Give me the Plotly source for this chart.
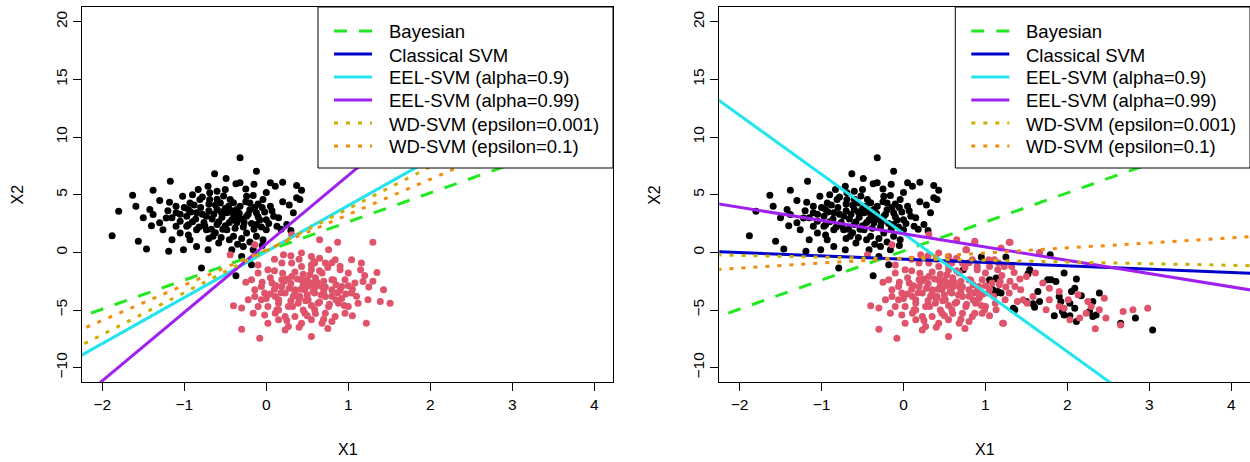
import plotly.graph_objects as go

W, H = 1250, 462

# ---------------- data ----------------
X_TICKS = [-2, -1, 0, 1, 2, 3, 4]
Y_TICKS = [-10, -5, 0, 5, 10, 15, 20]
X_RANGE = [-2.247, 4.228]
Y_RANGE = [-11.24, 21.28]

# class 1 (black) points - shared by both panels
black_x = [-0.32, -0.12, -0.63, -0.49, -1.17, -0.32, -0.37, 0.05, 0.20, 0.11,
           -1.38, -1.63, -0.83, -0.71, -0.60, -0.50, -0.16, 0.43, 0.37, 0.41,
           -1.59, -1.80, -1.18, -1.02, -0.93, -0.81, -0.69, -0.56, -0.44, -0.32,
           -0.20, -0.04, 0.05, 0.09, 0.33, 0.25, -1.42, -1.38, -1.22, -1.10,
           -0.97, -0.85, -0.73, -0.60, -0.48, -0.36, -0.24, -0.12, 0.00, -1.88,
           -1.56, -1.46, -1.19, -1.15, -1.05, -0.97, -0.85, -0.73, -0.60, -0.48,
           -0.36, -0.24, -0.12, -0.04, -1.01, -0.85, -0.71, -0.58, -0.42, -0.28,
           -0.30, -0.16, -0.18, -0.79, -0.93, -1.10, -0.65, -0.40, -1.30, -1.26,
           0.00, 0.13, -0.69, -0.24, -0.95, -0.42, -0.12, -0.37,
           -0.90, -0.80, -0.66, -0.54, -0.50, -0.40, -0.30, -0.20, -0.08, -0.05,
           -0.30, -0.62, -0.76, -0.46, -0.15, 0.15, -1.00, -0.86, -0.25, -0.52,
           0.00, -1.30, 0.30, -0.05, 0.37, -0.70, -0.35, -0.58, -0.82, -0.28,
           -0.10, -0.90, -0.45, -1.05, 0.20, -0.62, -0.15, 0.28,
           -1.15, -1.05, -0.95, -0.92, -0.88, -0.78, -0.75, -0.70, -0.67, -0.64,
           -0.55, -0.53, -0.50, -0.45, -0.42, -0.38, -0.33, -0.27, -0.22, -0.18,
           -0.14, -0.10, -0.06, -0.02, 0.03, 0.07, -0.60, -0.40, -0.78, -1.20,
           -1.10, -0.95, -0.70, -0.55, -0.20, -0.35, 0.18, -1.40, -1.50, -0.25]
black_y = [8.21, 7.04, 6.82, 6.41, 6.17, 6.03, 5.95, 6.03, 6.09, 5.74,
           5.39, 4.96, 5.45, 5.74, 5.30, 5.45, 4.93, 5.39, 4.73, 4.58,
           4.00, 3.57, 4.35, 4.87, 4.29, 4.58, 4.58, 4.29, 4.58, 4.00,
           4.29, 4.58, 4.00, 3.13, 3.43, 2.41, 3.71, 3.28, 2.99, 3.43,
           3.13, 3.43, 3.13, 3.71, 3.43, 3.71, 3.13, 3.43, 2.84, 1.45,
           0.96, 0.30, 0.09, 1.10, 1.69, 2.26, 1.97, 1.97, 2.41, 1.97,
           2.56, 1.69, 1.39, 1.10, 0.23, 0.52, 0.23, 0.82, 0.23, 0.52,
           -0.35, 0.23, -1.07, -1.36, 1.10, 2.26, 1.39, 1.39, 2.56, 1.97,
           1.97, 2.26, 5.17, 4.87, 3.71, 2.84, 2.41, -2.03,
           2.65, 3.90, 2.90, 3.05, 2.30, 3.30, 2.90, 3.70, 2.80, 3.90,
           1.20, 1.70, 2.60, 4.00, 2.00, 3.00, 3.90, 2.90, 5.50, 4.90,
           5.20, 4.50, 1.90, 0.60, 5.80, 3.60, 3.10, 2.65, 2.20, 2.20,
           4.20, 5.00, 1.10, 2.70, 4.40, 4.10, 5.90, 4.10,
           3.00, 3.30, 2.40, 3.50, 4.10, 3.30, 2.30, 4.20, 2.00, 3.30,
           3.50, 2.00, 3.80, 2.60, 3.60, 2.10, 3.40, 2.60, 3.30, 2.50,
           3.90, 3.10, 2.20, 3.50, 2.50, 3.60, 4.60, 4.30, 4.80, 3.60,
           4.00, 1.50, 1.20, 1.30, 0.90, 0.70, 2.00, 2.30, 3.00, 4.40]

# class 2 (red) points - shared by both panels
red_x = [-0.44, -0.14, 0.31, 0.65, 0.87, 1.30, 0.76, 0.43, 0.21, 0.55,
         1.04, 1.16, 1.35, 1.18, 1.43, 1.51, 1.39, 1.24, 1.04, 0.92,
         0.80, 0.68, 0.55, 0.43, 0.31, 0.19, 0.02, -0.10, -0.18, -0.06,
         0.07, 0.19, 0.31, 0.43, 0.55, 0.68, 0.80, 0.72, 0.59, 0.47,
         0.35, 0.23, 0.11, -0.02, -0.14, -0.22, -0.10, 0.02, 0.15, 0.27,
         0.39, 0.51, 0.63, 0.76, 0.88, 1.00, 1.12, 0.96, 0.84, 0.72,
         0.59, 0.47, 0.35, 0.23, 0.11, 0.15, 0.02, 0.27, 0.43, 0.55,
         0.68, 0.80, -0.40, -0.30, 1.22, -0.30, -0.08, 0.55, 0.23, -0.06,
         0.19, 0.90, 1.00, 0.41, 0.53, 0.59, 0.72, 0.84, 0.96, 1.08,
         -0.16, 0.13, -0.02, -0.14,
         0.30, 0.45, 0.60, 0.70, 0.50, 0.65, 0.40, 0.55, 0.30, 0.80,
         0.85, 0.75, 0.35, 0.60, 0.20, 0.10, 0.45, 0.90, 1.00, 1.10,
         0.05, -0.10, 0.25, 0.50, 0.70, 0.35, 0.15, 0.60, 0.85, 0.95,
         0.40, 0.65, 0.10, -0.25, 1.20, 0.55,
         0.05, 0.12, 0.18, 0.22, 0.28, 0.33, 0.38, 0.42, 0.48, 0.52,
         0.57, 0.62, 0.67, 0.72, 0.77, 0.82, 0.87, 0.92, 0.97, 1.05,
         0.32, 0.50, 0.70, 0.15, 0.00, -0.05, 0.10, 0.45, 0.65, 0.90,
         1.15, 1.25, 1.30, 0.40, 0.75, 1.05, 0.25, 0.58, 0.30, 0.80]
red_y = [-0.20, 0.67, 1.54, 1.10, 0.87, 0.87, 0.23, -0.05, -0.20, -0.35,
         -0.63, -0.92, -1.74, -2.52, -3.24, -4.40, -4.26, -4.11, -3.53, -2.96,
         -2.37, -1.79, -1.50, -1.22, -0.92, -0.92, -1.50, -1.79, -2.37, -2.96,
         -2.66, -2.37, -2.09, -2.37, -2.66, -2.96, -3.24, -3.83, -3.53, -3.24,
         -3.24, -3.53, -3.83, -3.53, -3.83, -4.11, -4.70, -4.70, -4.40, -4.70,
         -4.40, -4.11, -4.40, -4.70, -4.40, -4.70, -4.40, -5.27, -5.57, -5.27,
         -4.98, -5.27, -5.57, -5.57, -5.27, -5.85, -6.14, -6.43, -6.14, -5.85,
         -6.14, -6.00, -4.63, -4.83, -6.14, -6.66, -7.45, -7.30, -6.72, -4.11,
         -2.96, -1.50, -1.79, -3.83, -1.94, -0.92, -0.92, -0.63, -2.37, -2.66,
         -5.27, -4.98, -5.42, -3.24,
         -2.70, -2.80, -3.00, -2.50, -3.70, -4.30, -4.00, -4.60, -4.20, -3.80,
         -4.10, -1.30, -1.70, -2.20, -1.80, -3.20, -5.00, -3.30, -2.90, -3.80,
         -2.20, -1.10, -2.30, -2.40, -3.40, -3.50, -4.10, -5.30, -2.80, -4.60,
         -0.60, -0.50, -0.60, -2.60, -2.00, -1.10,
         -3.60, -2.90, -3.50, -2.50, -3.10, -3.80, -2.30, -3.20, -4.20, -2.90,
         -3.40, -2.60, -3.70, -3.00, -4.50, -2.40, -3.50, -4.00, -3.60, -3.20,
         -4.70, -5.50, -5.80, -5.00, -4.00, -2.60, -1.60, -1.90, -1.60, -1.20,
         -1.50, -3.00, -2.50, -6.50, -6.60, -5.50, -5.90, -0.80, -0.30, -0.90]

# extra (contaminating) points present only in the second panel
black_extra_x = [0.95, 1.25, 1.79, 0.73, 1.54, 1.52, 1.96, 1.07, 1.14, 1.06,
                 1.15, 1.19, 1.64, 1.76, 1.80, 1.86, 2.11, 2.09, 2.05, 2.17,
                 2.39, 2.31, 1.58, 1.66, 1.60, 1.92, 2.03, 2.09, 1.94, 1.34,
                 1.36, 1.84, 1.96, 2.03, 2.11, 2.31, 2.35, 2.65, 2.83, 3.04,
                 2.27, 1.90, 1.50, 1.05, 1.13, 1.09, 1.13]
black_extra_y = [-0.40, -0.40, -0.20, -1.50, -1.50, -1.85, -1.79, -2.52, -2.31, -3.39,
                 -3.39, -3.53, -3.39, -2.37, -2.37, -2.52, -2.31, -3.10, -3.39, -3.77,
                 -3.53, -4.26, -4.46, -4.26, -4.75, -4.26, -4.40, -4.84, -5.13, -4.84,
                 -4.98, -5.50, -5.42, -5.50, -6.00, -5.57, -5.42, -6.14, -5.70, -6.72,
                 -5.13, -3.83, -4.26, -2.37, -2.23, -3.24, -3.53]
red_extra_x = [0.87, 1.29, 1.66, 1.19, 0.77, 1.05, 1.11, 1.23, 1.32, 1.61,
               1.42, 1.50, 1.70, 1.78, 1.90, 1.58, 1.46, 1.78, 1.74, 1.90,
               2.01, 2.13, 2.25, 2.39, 2.29, 2.45, 2.23, 2.03, 1.96, 2.15,
               2.47, 2.68, 2.80, 2.98, 2.65, 2.34, 1.21, 0.99, 0.87, 1.13,
               0.93, 1.29, 1.36, 1.17]
red_extra_y = [0.96, 0.87, 0.00, 0.38, 0.23, -1.22, -0.63, -1.22, -1.22, -1.79,
               -2.31, -2.09, -2.66, -3.10, -3.39, -3.83, -4.11, -4.11, -4.98, -4.70,
               -4.11, -3.68, -4.26, -4.98, -4.70, -3.97, -5.27, -5.85, -4.84, -5.70,
               -5.70, -5.13, -4.98, -4.84, -6.29, -6.63, -6.14, -4.98, -5.27, -4.98,
               -3.83, -3.53, -2.96, -2.81]

# decision boundaries  x2 = intercept + slope * x1
series_names = ["Bayesian", "Classical SVM", "EEL-SVM (alpha=0.9)",
                "EEL-SVM (alpha=0.99)", "WD-SVM (epsilon=0.001)", "WD-SVM (epsilon=0.1)"]
left_intercepts = [0.12, 0.07, 0.07, 0.74, 0.15, 0.22]
left_slopes = [2.52, 3.99, 3.99, 5.94, 3.64, 3.06]
right_intercepts = [0.12, -0.59, 1.64, 1.615, -0.55, -0.49]
right_slopes = [2.52, -0.289, -5.125, -1.151, -0.142, 0.438]

# ---------------- styles ----------------
FONT = "Liberation Sans, Arial, sans-serif"
series_colors = ["#22E822", "#0000CD", "#22E5EE", "#A020F0", "#CDAD00", "#F28C10"]
series_dash = ["13px,12px", "solid", "solid", "solid", "4px,8px", "4px,8px"]
LINE_W = 3
left_widths = [3, 2, 3, 3, 3, 3]     # classical SVM hidden under EEL (alpha=0.9) in panel 1
right_widths = [3, 3, 3, 3, 3, 3]
RED = "#DF536B"
MARK = 7

# pixel geometry
PLOT_L = [82.0, 719.3]
PLOT_R = [613.0, 1250.0]
PLOT_T, PLOT_B = 7.0, 382.0

fig = go.Figure()
X_LINE = [-3.0, 5.0]

panels = [
    (black_x, black_y, red_x, red_y, left_intercepts, left_slopes, left_widths, "x", "y"),
    (black_x + black_extra_x, black_y + black_extra_y,
     red_x + red_extra_x, red_y + red_extra_y,
     right_intercepts, right_slopes, right_widths, "x2", "y2"),
]

for bx, by, rx, ry, icp, slp, wid, xa, ya in panels:
    fig.add_trace(go.Scatter(x=bx, y=by, mode="markers", xaxis=xa, yaxis=ya,
                             marker=dict(color="black", size=MARK, line=dict(width=0)),
                             showlegend=False, hoverinfo="skip"))
    fig.add_trace(go.Scatter(x=rx, y=ry, mode="markers", xaxis=xa, yaxis=ya,
                             marker=dict(color=RED, size=MARK, line=dict(width=0)),
                             showlegend=False, hoverinfo="skip"))
    for name, a, b, col, dash, w in zip(series_names, icp, slp, series_colors, series_dash, wid):
        fig.add_trace(go.Scatter(x=X_LINE, y=[a + b * X_LINE[0], a + b * X_LINE[1]],
                                 mode="lines", xaxis=xa, yaxis=ya, name=name,
                                 line=dict(color=col, width=w, dash=dash),
                                 showlegend=False, hoverinfo="skip"))

def px(x):
    return x / W

def py(y):
    return 1 - y / H

axis_common = dict(showgrid=False, zeroline=False, showline=True, mirror=True,
                   linecolor="black", linewidth=1, ticks="outside", ticklen=8,
                   tickwidth=1, tickcolor="black", automargin=False,
                   tickfont=dict(family=FONT, size=15.5, color="black"))

ydom = [py(PLOT_B), py(PLOT_T)]
layout = dict(
    width=W, height=H, margin=dict(l=0, r=0, t=0, b=0, pad=0, autoexpand=False),
    paper_bgcolor="white", plot_bgcolor="white", showlegend=False,
)
for i, (xa, ya) in enumerate([("xaxis", "yaxis"), ("xaxis2", "yaxis2")]):
    xname = "x" if i == 0 else "x2"
    yname = "y" if i == 0 else "y2"
    layout[xa] = dict(axis_common, domain=[px(PLOT_L[i]), px(PLOT_R[i])],
                      range=X_RANGE, tickvals=X_TICKS, anchor=yname)
    layout[ya] = dict(axis_common, domain=ydom, range=Y_RANGE, tickvals=Y_TICKS,
                      tickangle=-90, anchor=xname)
fig.update_layout(**layout)

# ---------------- legends (one per panel) & axis titles ----------------
LEG_L_OFF = 236.0      # legend box left relative to plot left
LEG_B = 168.0
ROWS = [31, 54, 77, 100, 123, 146]
SAMPLE_X0, SAMPLE_X1 = 252.0, 290.0   # relative to plot left
TEXT_X = 305.0                         # relative to plot left

shapes = []
annotations = []
for i in range(2):
    L = PLOT_L[i]
    shapes.append(dict(type="rect", xref="paper", yref="paper", layer="above",
                       x0=px(L + LEG_L_OFF), x1=px(PLOT_R[i]), y0=py(LEG_B), y1=py(PLOT_T),
                       fillcolor="white", line=dict(color="black", width=1)))
    for name, col, dash, ry in zip(series_names, series_colors, series_dash, ROWS):
        shapes.append(dict(type="line", xref="paper", yref="paper", layer="above",
                           x0=px(L + SAMPLE_X0), x1=px(L + SAMPLE_X1), y0=py(ry), y1=py(ry),
                           line=dict(color=col, width=LINE_W, dash=dash)))
        annotations.append(dict(text=name, xref="paper", yref="paper",
                                x=px(L + TEXT_X), y=py(ry + 1), xanchor="left", yanchor="middle",
                                showarrow=False, font=dict(family=FONT, size=18.5, color="black")))
    cx = (PLOT_L[i] + PLOT_R[i]) / 2
    annotations.append(dict(text="X1", xref="paper", yref="paper", x=px(cx), y=py(449),
                            xanchor="center", yanchor="middle", showarrow=False,
                            font=dict(family=FONT, size=16, color="black")))
    annotations.append(dict(text="X2", xref="paper", yref="paper", x=px(PLOT_L[i] - 65),
                            y=py((PLOT_T + PLOT_B) / 2), xanchor="center", yanchor="middle",
                            textangle=-90, showarrow=False,
                            font=dict(family=FONT, size=16, color="black")))

fig.update_layout(shapes=shapes, annotations=annotations)
fig.write_html("out.html", config={"displayModeBar": False},
               post_script="document.body.style.margin='0px';document.body.style.overflow='hidden';")
